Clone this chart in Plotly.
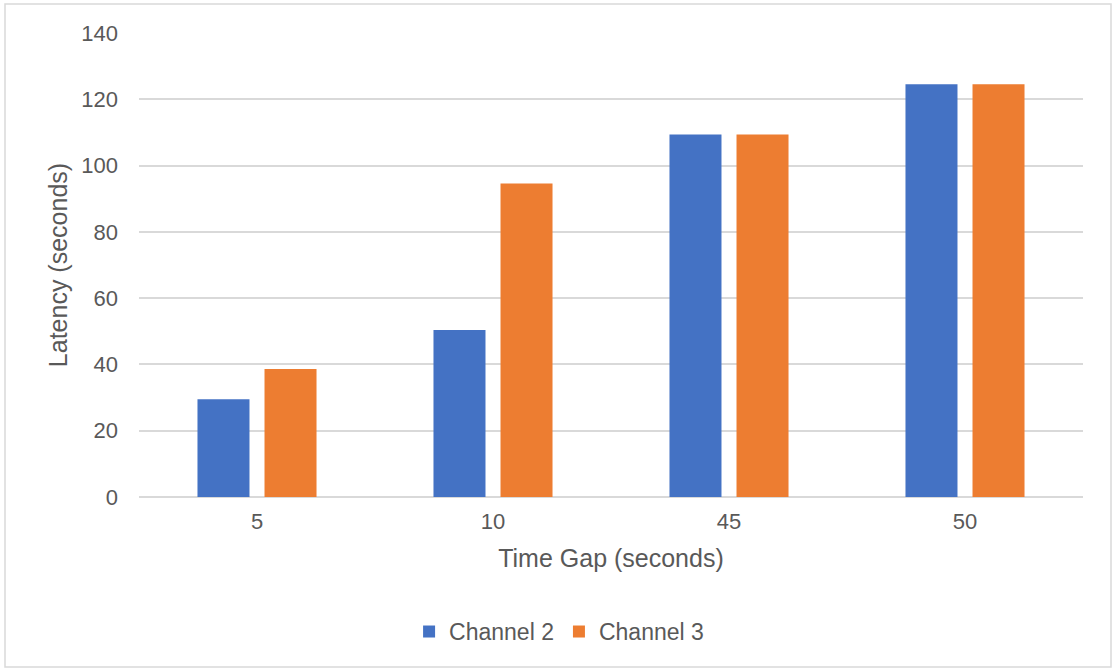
import plotly.graph_objects as go

# Latency per time gap, two channels
time_gaps = ["5", "10", "45", "50"]
channel_2 = [29.5, 50.4, 109.4, 124.5]
channel_3 = [38.6, 94.6, 109.4, 124.5]

BLUE = "#4472C4"
ORANGE = "#ED7D31"
GRID = "#D9D9D9"
TEXT = "#595959"
FONT = "Liberation Sans, Arial, sans-serif"

fig = go.Figure()
fig.add_trace(go.Bar(name="Channel 2", x=time_gaps, y=channel_2,
                     marker=dict(color=BLUE, line=dict(width=0))))
fig.add_trace(go.Bar(name="Channel 3", x=time_gaps, y=channel_3,
                     marker=dict(color=ORANGE, line=dict(width=0))))

L, R, T, B = 139, 29, 33, 171
W, H = 1112, 668
pw, ph = W - L - R, H - T - B

fig.update_layout(
    width=W, height=H,
    margin=dict(l=L, r=R, t=T, b=B),
    paper_bgcolor="white", plot_bgcolor="white",
    font=dict(family=FONT, color=TEXT, size=22),
    barmode="group", bargap=0.432, bargroupgap=0.224,
    showlegend=True,
    legend=dict(orientation="h", x=0.445, xanchor="center", y=-0.29, yanchor="middle",
                font=dict(size=23, color=TEXT), itemwidth=30, traceorder="normal"),
    xaxis=dict(type="category", showgrid=False, showline=False, zeroline=False,
               ticks="", tickfont=dict(size=22, color=TEXT), ticklabelstandoff=9,
               title=dict(text="Time Gap (seconds)", font=dict(size=25, color=TEXT), standoff=16)),
    yaxis=dict(range=[0, 140], dtick=20, showgrid=True, gridcolor=GRID, gridwidth=1.5,
               zeroline=True, zerolinecolor=GRID, zerolinewidth=1.5, showline=False,
               ticks="", tickfont=dict(size=22, color=TEXT), ticklabelstandoff=20,
               title=dict(text="Latency (seconds)", font=dict(size=25, color=TEXT), standoff=6)),
    shapes=[dict(type="rect", xref="paper", yref="paper",
                 x0=(5 - L) / pw, x1=(1111 - L) / pw,
                 y0=-(H - 1 - (T + ph)) / ph, y1=(T + ph - 4) / ph,
                 line=dict(color=GRID, width=1.5), layer="below")],
)

fig.write_html("out.html")
